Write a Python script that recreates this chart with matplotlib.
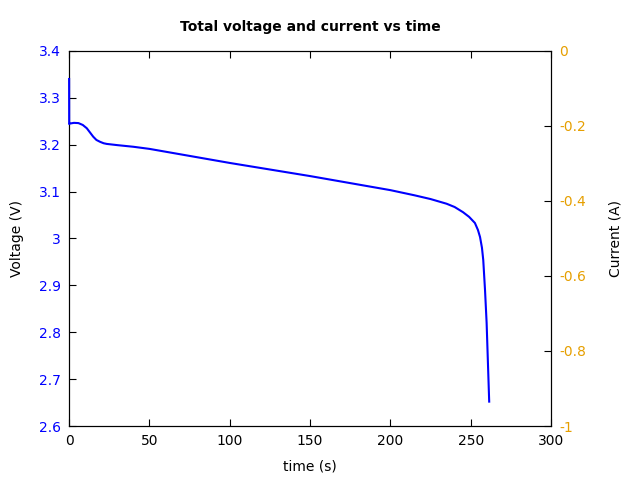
import matplotlib
matplotlib.use("Agg")
import matplotlib.pyplot as plt
from matplotlib.ticker import FuncFormatter

time_s = [0, 0.05, 0.5, 3, 5.8, 8.5, 11, 13, 15, 17, 19.3, 21.5, 23.4, 30, 40, 50, 75, 100,
          125, 150, 175, 200, 215, 225, 235, 240, 245.2, 249, 252.6, 254.5, 255.8, 257,
          257.8, 258.9, 259.9, 261.5]
voltage_v = [3.340, 3.244, 3.245, 3.2465, 3.246, 3.242, 3.235, 3.226, 3.217, 3.210, 3.206,
             3.203, 3.2016, 3.199, 3.1955, 3.191, 3.176, 3.161, 3.147, 3.133, 3.118, 3.103,
             3.092, 3.084, 3.074, 3.067, 3.056, 3.046, 3.033, 3.018, 3.003, 2.980, 2.954,
             2.89, 2.82, 2.652]

orange = "#E69F00"
fig = plt.figure(figsize=(6.4, 4.8), dpi=100)
ax = fig.add_axes([0.108, 0.1125, 0.753, 0.7815])
ax.plot(time_s, voltage_v, color="blue", lw=1.5, clip_on=False, zorder=5)
ax.set_xlim(0, 300)
ax.set_ylim(2.6, 3.4)
ax.set_xticks([0, 50, 100, 150, 200, 250, 300])
ax.set_yticks([2.6, 2.7, 2.8, 2.9, 3.0, 3.1, 3.2, 3.3, 3.4])
fmt = FuncFormatter(lambda v, p: "%g" % round(v, 3))
ax.yaxis.set_major_formatter(fmt)
ax.tick_params(axis="x", direction="in", top=True, length=5, labelsize=10, pad=6)
ax.tick_params(axis="y", direction="in", length=5, labelsize=10, labelcolor="blue", pad=6)
ax.set_xlabel("time (s)", fontsize=10, labelpad=8)
ax.set_ylabel("Voltage (V)", fontsize=10, labelpad=11)
ax.set_title("Total voltage and current vs time", fontsize=10, fontweight="bold", pad=14)

ax2 = ax.twinx()
ax2.set_ylim(-1, 0)
ax2.set_yticks([-1, -0.8, -0.6, -0.4, -0.2, 0])
ax2.yaxis.set_major_formatter(fmt)
ax2.tick_params(axis="y", direction="in", length=5, labelsize=10, labelcolor=orange, pad=6)
ax2.set_ylabel("Current (A)", fontsize=10, labelpad=16)
ax.set_zorder(ax2.get_zorder() + 1)
ax.patch.set_visible(False)

fig.savefig("out.png", dpi=100)
